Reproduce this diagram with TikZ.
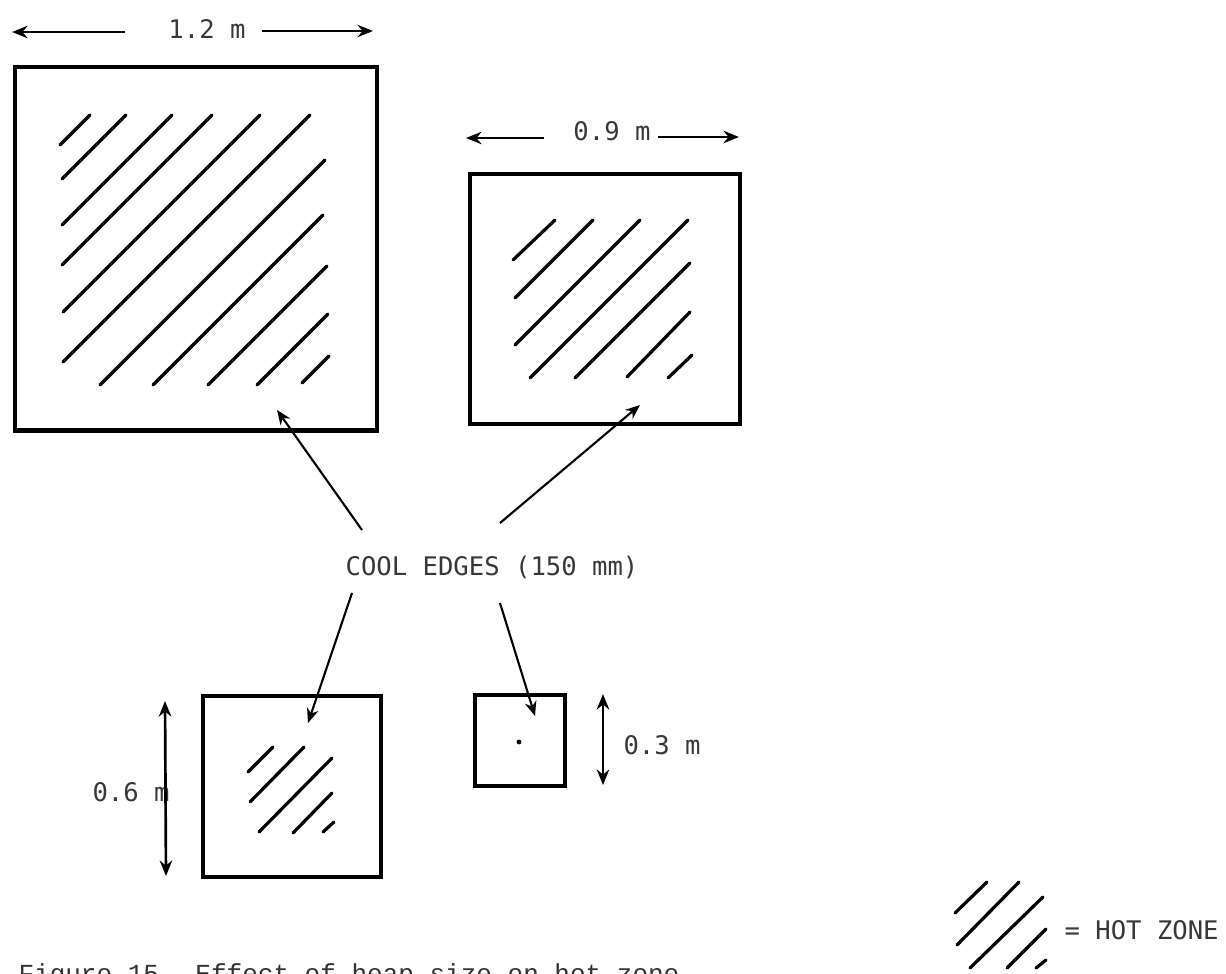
\documentclass[tikz,border=0pt]{standalone}
\usepackage{fontspec}
\setmonofont{DejaVu Sans Mono}
\newfontfamily\capfont{Liberation Mono}
\usetikzlibrary{arrows.meta}
\begin{document}
\begin{tikzpicture}[x=0.0125cm,y=-0.0125cm,
  heap/.style={draw=black,line width=1.7pt,inner sep=0pt,outer sep=0pt,anchor=north west},
  hatchline/.style={line width=1.15pt,line cap=round},
  pointer/.style={line width=0.75pt,-{Stealth[length=5.2pt,width=4.2pt]}},
  dimarrow/.style={line width=0.95pt,-{Stealth[length=5.5pt,width=4.4pt]}},
  dimboth/.style={line width=0.95pt,{Stealth[length=5.5pt,width=4.4pt]}-{Stealth[length=5.5pt,width=4.4pt]}},
  lbl/.style={font=\fontsize{9.1}{10}\ttfamily,text=black!78,inner sep=0pt}]
\useasboundingbox (0,0) rectangle (1226,973);

% heaps
\node[heap,minimum width=4.525cm,minimum height=4.5375cm] (big) at (15,67) {};
\node[heap,minimum width=3.375cm,minimum height=3.125cm] (mid) at (470,174) {};
\node[heap,minimum width=2.225cm,minimum height=2.2625cm] (small) at (203,696) {};
\node[heap,minimum width=1.125cm,minimum height=1.1375cm] (tiny) at (475,695) {};

% hatching, big heap
\draw[hatchline] (60,145)--(90,115) (62,179)--(126,115) (62,225)--(172,115)
  (62,265)--(212,115) (63,312)--(260,115) (63,362)--(310,115)
  (100,385)--(325,160) (153,385)--(323,215) (208,385)--(327,266)
  (257,385)--(328,314) (302,383)--(329,356);
% hatching, 0.9 m heap
\draw[hatchline] (513,260)--(555,220) (515,298)--(593,220) (515,345)--(640,220)
  (530,378)--(688,220) (575,378)--(690,263) (627,377)--(690,312) (668,378)--(692,355);
% hatching, 0.6 m heap
\draw[hatchline] (248,772)--(273,747) (250,802)--(304,747) (259,832)--(332,758)
  (293,833)--(332,793) (323,832)--(334,822);
% dot, 0.3 m heap
\fill (519,742) circle[radius=2.4];

% dimension 1.2 m
\node[lbl] (dimA) at (207,29) {1.2 m};
\coordinate (dimAl0) at (125,32); \coordinate (dimAl1) at (12,32);
\coordinate (dimAr0) at (262,31); \coordinate (dimAr1) at (373,31);
\draw[dimarrow] (dimAl0) -- (dimAl1);
\draw[dimarrow] (dimAr0) -- (dimAr1);
% dimension 0.9 m
\node[lbl] (dimB) at (612,131) {0.9 m};
\coordinate (dimBl0) at (544,138); \coordinate (dimBl1) at (466,138);
\coordinate (dimBr0) at (658,137); \coordinate (dimBr1) at (739,137);
\draw[dimarrow] (dimBl0) -- (dimBl1);
\draw[dimarrow] (dimBr0) -- (dimBr1);
% dimension 0.6 m
\node[lbl,anchor=west] (dimC) at (92,792) {0.6 m};
\coordinate (dimCt) at (165,701); \coordinate (dimCb) at (166,876);
\draw[dimboth] (dimCt) -- (dimCb);
% dimension 0.3 m
\node[lbl,anchor=west] (dimD) at (623,745) {0.3 m};
\coordinate (dimDt) at (603,694); \coordinate (dimDb) at (603,785);
\draw[dimboth] (dimDt) -- (dimDb);

% cool edges
\node[lbl] (cool) at (492,567) {COOL EDGES (150 mm)};
\coordinate (p1s) at (362,530); \coordinate (p1t) at (277,410);
\coordinate (p2s) at (500,523); \coordinate (p2t) at (640,405);
\coordinate (p3s) at (352,593); \coordinate (p3t) at (308,723);
\coordinate (p4s) at (500,603); \coordinate (p4t) at (535,716);
\draw[pointer] (p1s) -- (p1t);
\draw[pointer] (p2s) -- (p2t);
\draw[pointer] (p3s) -- (p3t);
\draw[pointer] (p4s) -- (p4t);

% legend
\draw[hatchline] (955,913)--(987,882) (957,945)--(1019,882) (970,968)--(1043,897)
  (1007,968)--(1046,929) (1036,968)--(1046,960);
\node[lbl,anchor=west] (legend) at (1064,930) {= HOT ZONE};

% caption (cut by the lower edge, as in the reference)
\node[anchor=base west,inner sep=0pt,font=\fontsize{9.25}{11}\capfont,text=black!80] (caption) at (18,982) {Figure 15. Effect of heap size on hot zone};
\end{tikzpicture}
\end{document}
